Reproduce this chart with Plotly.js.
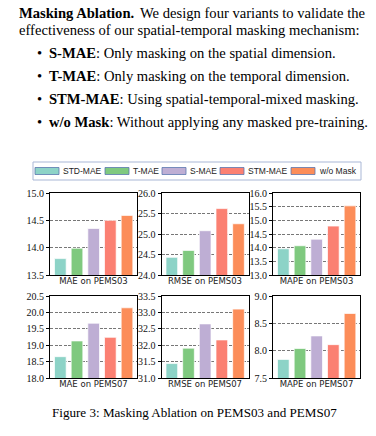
<!DOCTYPE html>
<html><head><meta charset="utf-8">
<script src="https://cdn.plot.ly/plotly-3.0.1.min.js"></script>
<style>html,body{margin:0;padding:0;background:#fff}#c{width:376px;height:436px}</style>
</head><body><div id="c"></div>
<script>
const categories = ['STD-MAE','T-MAE','S-MAE','STM-MAE','w/o Mask'];
const colors = ['#8dd3c7','#7fc97f','#beaed4','#fb8072','#fc8d59'];
const panelTitles = ['MAE on PEMS03','RMSE on PEMS03','MAPE on PEMS03','MAE on PEMS07','RMSE on PEMS07','MAPE on PEMS07'];
const mae03  = [13.80, 13.99, 14.35, 14.50, 14.59];
const rmse03 = [24.43, 24.60, 25.08, 25.62, 25.25];
const mape03 = [13.96, 14.07, 14.31, 14.79, 15.53];
const mae07  = [18.65, 19.13, 19.67, 19.24, 20.14];
const rmse07 = [31.44, 31.91, 32.65, 32.16, 33.10];
const mape07 = [7.84, 8.04, 8.27, 8.11, 8.68];
const yRanges = [[13.5,15],[24,26],[13,16],[18,20.5],[31,33.5],[7.5,9]];
const seriesList = [mae03, rmse03, mape03, mae07, rmse07, mape07];

const W = 376, H = 436;
const px = x => x / W;
const py = y => 1 - y / H;

const colX = [[50,137],[161.5,248.5],[273,360]];
const rowY = [[193,275],[296,378]];

const traces = [];
const layout = {
  width: W, height: H, margin:{l:0,r:0,t:0,b:0},
  paper_bgcolor:'#fff', plot_bgcolor:'#fff', showlegend:false,
  annotations: [], shapes: []
};

seriesList.forEach((vals, i) => {
  const n = i + 1;
  const xa = 'x' + (n === 1 ? '' : n), ya = 'y' + (n === 1 ? '' : n);
  const xk = 'xaxis' + (n === 1 ? '' : n), yk = 'yaxis' + (n === 1 ? '' : n);
  const c = i % 3, r = Math.floor(i / 3);
  traces.push({
    type:'bar', x:[0,1,2,3,4], y:vals, xaxis:xa, yaxis:ya, width:0.7,
    marker:{color:colors, line:{color:'rgba(255,255,255,0.7)', width:1}},
    hoverinfo:'skip'
  });
  layout[xk] = {
    domain:[px(colX[c][0]), px(colX[c][1])], anchor:ya,
    range:[-0.62, 4.6], showticklabels:false, ticks:'', showgrid:false, zeroline:false,
    showline:true, mirror:true, linecolor:'#000', linewidth:1,
    title:{text:panelTitles[i], font:{family:'DejaVu Sans, sans-serif', size:8.5, color:'#222'}, standoff:3}
  };
  layout[yk] = {
    domain:[py(rowY[r][1]), py(rowY[r][0])], anchor:xa,
    range:yRanges[i], dtick:0.5, tick0:0, tickformat:'.1f',
    ticks:'outside', ticklen:3, tickwidth:1, tickcolor:'#000',
    showline:true, mirror:true, linecolor:'#000', linewidth:1, zeroline:false,
    showgrid:true, gridcolor:'#777', gridwidth:1, griddash:'3px,1.5px',
    tickfont:{family:'Liberation Serif, Times New Roman, serif', size:10, color:'#111'}
  };
});

layout.shapes.push({type:'rect', xref:'paper', yref:'paper',
  x0:px(33), x1:px(361), y0:py(180), y1:py(162),
  line:{color:'#a9b7d6', width:1}, fillcolor:'rgba(0,0,0,0)'});
const swX = [35, 105, 162, 220, 291];
categories.forEach((cat, k) => {
  layout.shapes.push({type:'rect', xref:'paper', yref:'paper',
    x0:px(swX[k]), x1:px(swX[k]+24), y0:py(174.5), y1:py(167.5),
    line:{color:'#5a77b0', width:0.8}, fillcolor:colors[k]});
  layout.annotations.push({xref:'paper', yref:'paper', x:px(swX[k]+26), y:py(171),
    xanchor:'left', yanchor:'middle', showarrow:false, text:cat,
    font:{family:'Liberation Sans, Arial, sans-serif', size:8.5, color:'#222'}});
});

const serif = 'Liberation Serif';
const fs = 14.6;
const addText = (x, y, t, anchor) => layout.annotations.push({xref:'paper', yref:'paper', x:px(x), y:py(y),
  xanchor:anchor || 'left', yanchor:'middle', showarrow:false, text:t, font:{family:serif, size:fs, color:'#000'}});
addText(17, 13, '<b>Masking Ablation.</b>');
addText(367, 13, 'We design four variants to validate the', 'right');
addText(17, 30, 'effectiveness of our spatial-temporal masking mechanism:');
const bullets = [
  {y:53, t:'<b>S-MAE</b>: Only masking on the spatial dimension.'},
  {y:76, t:'<b>T-MAE</b>: Only masking on the temporal dimension.'},
  {y:99, t:'<b>STM-MAE</b>: Using spatial-temporal-mixed masking.'},
  {y:122, t:'<b>w/o Mask</b>: Without applying any masked pre-training.'}
];
bullets.forEach(b => {
  addText(35, b.y, '•');
  addText(46.5, b.y, b.t);
});
layout.annotations.push({xref:'paper', yref:'paper', x:px(195), y:py(412),
  xanchor:'center', yanchor:'middle', showarrow:false,
  text:'Figure 3: Masking Ablation on PEMS03 and PEMS07', font:{family:serif, size:13.1, color:'#000'}});

Plotly.newPlot('c', traces, layout, {staticPlot:true, displayModeBar:false});
</script></body></html>
